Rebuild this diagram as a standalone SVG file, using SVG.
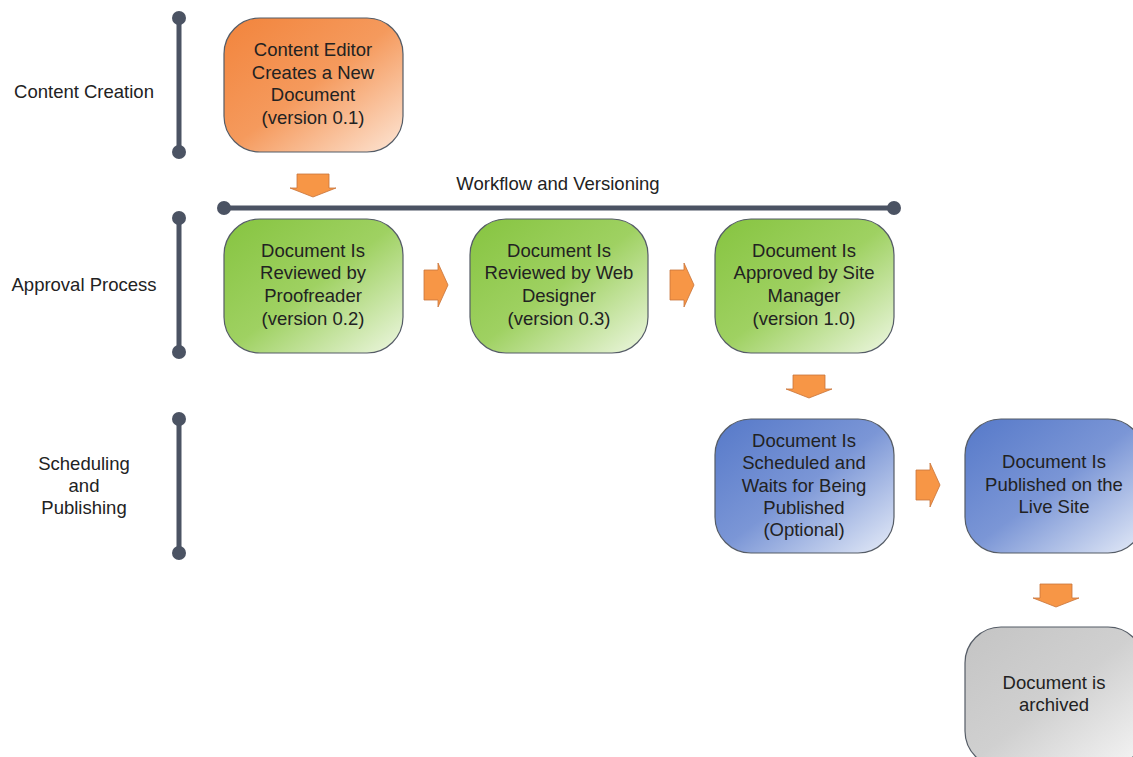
<svg xmlns="http://www.w3.org/2000/svg" width="1133" height="757" viewBox="0 0 1133 757">
<defs>
<linearGradient id="gO" x1="0" y1="0" x2="1" y2="1"><stop offset="0" stop-color="#f2843c"/><stop offset="0.5" stop-color="#f59a5d"/><stop offset="1" stop-color="#fde6d6"/></linearGradient>
<linearGradient id="gG" x1="0" y1="0" x2="1" y2="1"><stop offset="0" stop-color="#86c440"/><stop offset="0.5" stop-color="#9fd162"/><stop offset="1" stop-color="#eef7e2"/></linearGradient>
<linearGradient id="gB" x1="0" y1="0" x2="1" y2="1"><stop offset="0" stop-color="#5679c9"/><stop offset="0.5" stop-color="#7b96d6"/><stop offset="1" stop-color="#e6ecf8"/></linearGradient>
<linearGradient id="gR" x1="0" y1="0" x2="1" y2="1"><stop offset="0" stop-color="#c4c4c4"/><stop offset="0.5" stop-color="#d0d0d0"/><stop offset="1" stop-color="#f6f6f6"/></linearGradient>
<path id="arrD" d="M-16,-11 H16 V3 H23 L0,12 L-23,3 H-16 Z"/>
<path id="arrR" d="M-12,-15 H2 V-22 L12,0 L2,22 V15 H-12 Z"/>
</defs>
<style>
text{font-family:"Liberation Sans",Arial,sans-serif;font-size:18.5px;fill:#222;text-anchor:middle}
.box{stroke:#555c66;stroke-width:1.2}
.bar{stroke:#4b5363;stroke-width:5;stroke-linecap:round}
.dot{fill:#4b5363}
.arr{fill:#f79646;stroke:#c8733a;stroke-width:0.8}
</style>
<rect width="1133" height="757" fill="#ffffff"/>
<g id="lanes">
<line class="bar" x1="179" y1="18" x2="179" y2="152"/><circle class="dot" cx="179" cy="18" r="7"/><circle class="dot" cx="179" cy="152" r="7"/>
<line class="bar" x1="179" y1="218" x2="179" y2="352"/><circle class="dot" cx="179" cy="218" r="7"/><circle class="dot" cx="179" cy="352" r="7"/>
<line class="bar" x1="179" y1="419" x2="179" y2="553"/><circle class="dot" cx="179" cy="419" r="7"/><circle class="dot" cx="179" cy="553" r="7"/>
<line class="bar" x1="224" y1="208" x2="894" y2="208"/><circle class="dot" cx="224" cy="208" r="7"/><circle class="dot" cx="894" cy="208" r="7"/>
<text x="84" y="98">Content Creation</text>
<text x="84" y="291">Approval Process</text>
<text x="84" y="470">Scheduling</text>
<text x="84" y="492">and</text>
<text x="84" y="514">Publishing</text>
<text x="558" y="190">Workflow and Versioning</text>
</g>
<g id="n1"><rect class="box" x="224" y="18" width="179" height="134" rx="36" fill="url(#gO)"/>
<text x="313" y="56">Content Editor</text><text x="313" y="79">Creates a New</text><text x="313" y="101">Document</text><text x="313" y="124">(version 0.1)</text></g>
<g id="n2"><rect class="box" x="224" y="219" width="179" height="134" rx="36" fill="url(#gG)"/>
<text x="313" y="257">Document Is</text><text x="313" y="279">Reviewed by</text><text x="313" y="302">Proofreader</text><text x="313" y="325">(version 0.2)</text></g>
<g id="n3"><rect class="box" x="470" y="219" width="178" height="134" rx="36" fill="url(#gG)"/>
<text x="559" y="257">Document Is</text><text x="559" y="279">Reviewed by Web</text><text x="559" y="302">Designer</text><text x="559" y="325">(version 0.3)</text></g>
<g id="n4"><rect class="box" x="715" y="219" width="179" height="134" rx="36" fill="url(#gG)"/>
<text x="804" y="257">Document Is</text><text x="804" y="279">Approved by Site</text><text x="804" y="302">Manager</text><text x="804" y="325">(version 1.0)</text></g>
<g id="n5"><rect class="box" x="715" y="419" width="179" height="134" rx="36" fill="url(#gB)"/>
<text x="804" y="447">Document Is</text><text x="804" y="469">Scheduled and</text><text x="804" y="492">Waits for Being</text><text x="804" y="514">Published</text><text x="804" y="536">(Optional)</text></g>
<g id="n6"><rect class="box" x="965" y="419" width="179" height="134" rx="36" fill="url(#gB)"/>
<text x="1054" y="468">Document Is</text><text x="1054" y="491">Published on the</text><text x="1054" y="513">Live Site</text></g>
<g id="n7"><rect class="box" x="965" y="627" width="179" height="140" rx="36" fill="url(#gR)"/>
<text x="1054" y="689">Document is</text><text x="1054" y="711">archived</text></g>
<g id="connectors">
<use href="#arrD" class="arr" x="313" y="185"/>
<use href="#arrR" class="arr" x="436" y="285"/>
<use href="#arrR" class="arr" x="682" y="285"/>
<use href="#arrD" class="arr" x="809" y="386"/>
<use href="#arrR" class="arr" x="928" y="485"/>
<use href="#arrD" class="arr" x="1056" y="595"/>
</g>
</svg>
